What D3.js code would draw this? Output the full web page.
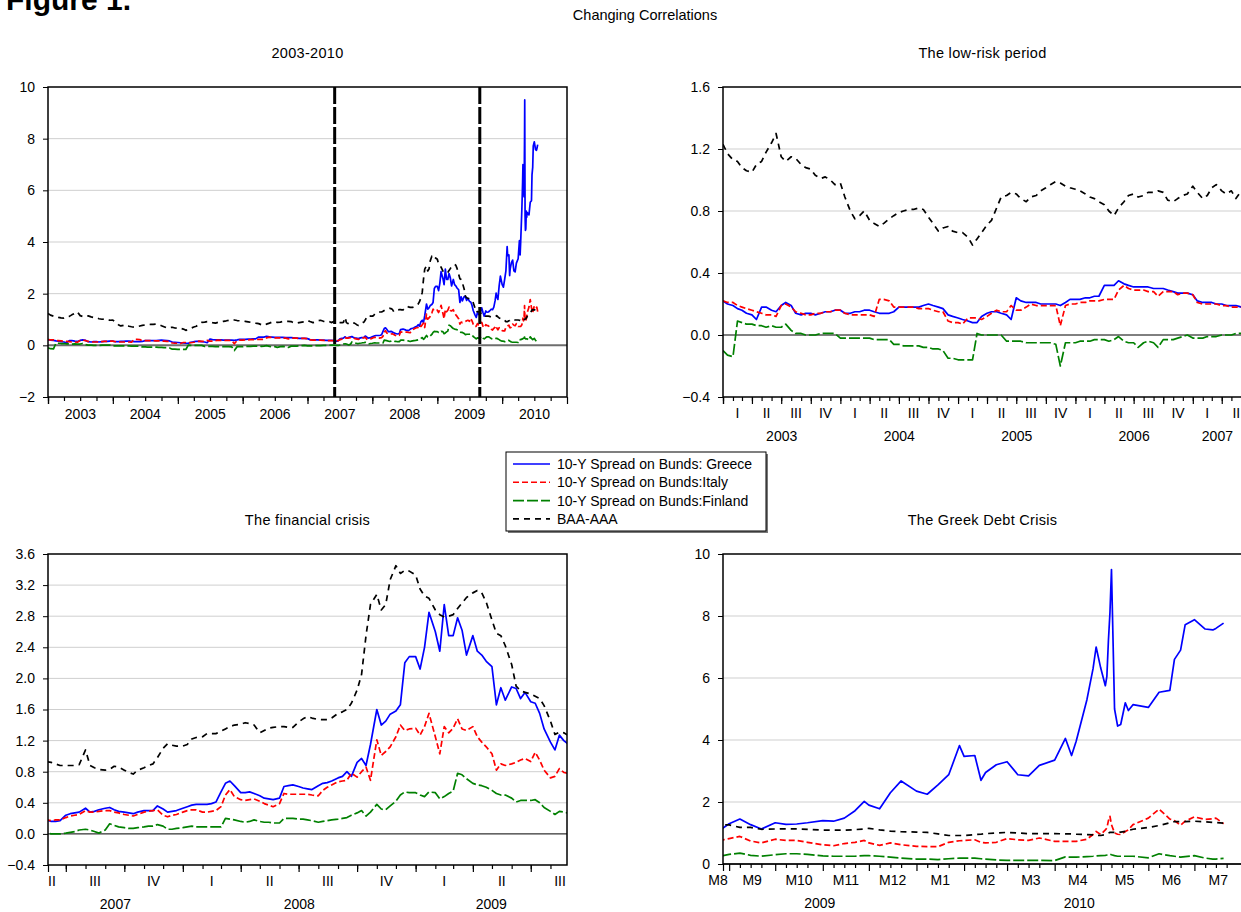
<!DOCTYPE html>
<html>
<head>
<meta charset="utf-8">
<script src="https://cdn.jsdelivr.net/npm/d3@7"></script>
<style>
  body { margin: 0; background: #fff; }
  text { font-family: "Liberation Sans", Arial, sans-serif; fill: #000; }
</style>
</head>
<body>
<svg id="chart" width="1241" height="912"></svg>
<script>
// ---- dates: semi-monthly for the calm years, weekly for the crisis, denser in 2010 ----
var datesLow = (
  "2003-01-01 2003-01-15 2003-02-01 2003-02-15 2003-03-01 2003-03-15 2003-04-01 2003-04-15 2003-05-01 2003-05-15 2003-06-01 2003-06-15 " +
  "2003-07-01 2003-07-15 2003-08-01 2003-08-15 2003-09-01 2003-09-15 2003-10-01 2003-10-15 2003-11-01 2003-11-15 2003-12-01 2003-12-15 " +
  "2004-01-01 2004-01-15 2004-02-01 2004-02-15 2004-03-01 2004-03-15 2004-04-01 2004-04-15 2004-05-01 2004-05-15 2004-06-01 2004-06-15 " +
  "2004-07-01 2004-07-15 2004-08-01 2004-08-15 2004-09-01 2004-09-15 2004-10-01 2004-10-15 2004-11-01 2004-11-15 2004-12-01 2004-12-15 " +
  "2005-01-01 2005-01-15 2005-02-01 2005-02-15 2005-03-01 2005-03-15 2005-04-01 2005-04-15 2005-05-01 2005-05-15 2005-06-01 2005-06-15 " +
  "2005-07-01 2005-07-15 2005-08-01 2005-08-15 2005-09-01 2005-09-15 2005-10-01 2005-10-15 2005-11-01 2005-11-15 2005-12-01 2005-12-15 " +
  "2006-01-01 2006-01-15 2006-02-01 2006-02-15 2006-03-01 2006-03-15 2006-04-01 2006-04-15 2006-05-01 2006-05-15 2006-06-01 2006-06-15 " +
  "2006-07-01 2006-07-15 2006-08-01 2006-08-15 2006-09-01 2006-09-15 2006-10-01 2006-10-15 2006-11-01 2006-11-15 2006-12-01 2006-12-15 " +
  "2007-01-01 2007-01-15 2007-02-01 2007-02-15 2007-03-01 2007-03-15 2007-04-01 2007-04-15 2007-05-01 2007-05-15 2007-06-01").split(" ");

var datesCrisis = (
  "2007-06-08 2007-06-15 2007-06-22 " +
  "2007-07-01 2007-07-08 2007-07-15 2007-07-22 2007-08-01 2007-08-08 2007-08-15 2007-08-22 2007-09-01 2007-09-08 2007-09-15 2007-09-22 " +
  "2007-10-01 2007-10-08 2007-10-15 2007-10-22 2007-11-01 2007-11-08 2007-11-15 2007-11-22 2007-12-01 2007-12-08 2007-12-15 2007-12-22 " +
  "2008-01-01 2008-01-08 2008-01-15 2008-01-22 2008-02-01 2008-02-08 2008-02-15 2008-02-22 2008-03-01 2008-03-08 2008-03-15 2008-03-22 " +
  "2008-04-01 2008-04-08 2008-04-15 2008-04-22 2008-05-01 2008-05-08 2008-05-15 2008-05-22 2008-06-01 2008-06-08 2008-06-15 2008-06-22 " +
  "2008-07-01 2008-07-08 2008-07-15 2008-07-22 2008-08-01 2008-08-08 2008-08-15 2008-08-22 2008-09-01 2008-09-08 2008-09-15 2008-09-22 " +
  "2008-10-01 2008-10-08 2008-10-15 2008-10-22 2008-11-01 2008-11-08 2008-11-15 2008-11-22 2008-12-01 2008-12-08 2008-12-15 2008-12-22 " +
  "2009-01-01 2009-01-08 2009-01-15 2009-01-22 2009-02-01 2009-02-08 2009-02-15 2009-02-22 2009-03-01 2009-03-08 2009-03-15 2009-03-22 " +
  "2009-04-01 2009-04-08 2009-04-15 2009-04-22 2009-05-01 2009-05-08 2009-05-15 2009-05-22 2009-06-01 2009-06-08 2009-06-15 2009-06-22 " +
  "2009-07-01 2009-07-08 2009-07-15 2009-07-22 2009-08-01 2009-08-08 2009-08-15 2009-08-22 2009-08-28").split(" ");

var datesGreek = (
  "2009-09-01 2009-09-08 2009-09-15 2009-09-22 2009-10-01 2009-10-08 2009-10-15 2009-10-22 " +
  "2009-11-01 2009-11-08 2009-11-15 2009-11-22 2009-11-28 2009-12-01 2009-12-08 2009-12-15 2009-12-22 " +
  "2010-01-01 2010-01-08 2010-01-15 2010-01-22 2010-01-29 2010-02-01 2010-02-08 2010-02-12 2010-02-15 2010-02-22 " +
  "2010-03-01 2010-03-08 2010-03-15 2010-03-22 2010-04-01 2010-04-08 2010-04-12 2010-04-15 2010-04-22 2010-04-26 2010-04-28 " +
  "2010-05-01 2010-05-04 2010-05-05 2010-05-06 2010-05-07 2010-05-08 2010-05-10 2010-05-12 2010-05-14 2010-05-17 2010-05-19 2010-05-22 " +
  "2010-06-01 2010-06-08 2010-06-15 2010-06-18 2010-06-22 2010-06-25 2010-07-01 2010-07-08 2010-07-13 2010-07-15 2010-07-20").split(" ");

var dates = datesLow.concat(datesCrisis, datesGreek);

// ---- 10-Y spread on Bunds: Greece ----
var greece = [
  // 2003-2007 (semi-monthly)
  0.22,0.20,0.19,0.17,0.16,0.14,0.13,0.10,0.18,0.18,0.16,0.15,0.19,0.21,0.19,0.14,0.13,0.14,0.14,0.13,0.14,0.15,0.15,0.16,
  0.16,0.14,0.14,0.15,0.15,0.16,0.16,0.15,0.14,0.14,0.14,0.15,0.18,0.18,0.18,0.18,0.18,0.19,0.20,0.19,0.18,0.17,0.13,0.12,
  0.11,0.10,0.09,0.08,0.08,0.12,0.14,0.15,0.15,0.14,0.13,0.10,0.24,0.22,0.21,0.21,0.21,0.20,0.20,0.20,0.20,0.19,0.21,0.23,
  0.23,0.23,0.24,0.24,0.25,0.25,0.32,0.32,0.32,0.35,0.33,0.32,0.31,0.31,0.31,0.31,0.30,0.30,0.30,0.29,0.28,0.27,0.27,0.27,
  0.26,0.22,0.21,0.21,0.21,0.20,0.20,0.19,0.19,0.19,0.18,
  // Jun 2007 - Aug 2009 (weekly)
  0.16,0.16,0.17,
  0.24,0.26,0.27,0.28, 0.33,0.28,0.29,0.31, 0.33,0.34,0.31,0.29, 0.28,0.27,0.26,0.28, 0.30,0.30,0.30,0.36, 0.32,0.28,0.29,0.30,
  0.33,0.35,0.37,0.38, 0.38,0.38,0.39,0.41, 0.54,0.65,0.68,0.62, 0.53,0.53,0.54,0.52, 0.49,0.46,0.45,0.44, 0.46,0.61,0.62,0.63,
  0.61,0.59,0.58,0.57, 0.62,0.65,0.66,0.68, 0.72,0.74,0.80,0.74, 0.92,0.97,0.88,1.15, 1.60,1.40,1.45,1.54, 1.58,1.66,2.20,2.28,
  2.28,2.12,2.40,2.85, 2.60,2.35,2.95,2.55, 2.55,2.78,2.62,2.30, 2.55,2.35,2.30,2.22, 2.15,1.66,1.88,1.72, 1.89,1.87,1.74,1.82,
  1.70,1.68,1.55,1.35, 1.18,1.08,1.27,1.20, 1.16,
  // Sep 2009 - Jul 2010
  1.30,1.45,1.27,1.13, 1.33,1.28,1.29,1.33, 1.40,1.38,1.48,1.72,2.02, 1.90,1.78,2.30,2.68,
  2.35,2.25,2.55,2.88,3.82, 3.47,3.50,2.70,2.95,3.20, 3.30,2.88,2.84,3.18, 3.35,4.05,3.50,3.96,5.30,6.30,7.00,
  6.32,5.75,6.05,7.20,8.10,9.50,5.00,4.45,4.50,5.20,4.95,5.14, 5.05,5.54,5.60,6.60,6.90,7.72, 7.88,7.58,7.55,7.60,7.77
];

// ---- 10-Y spread on Bunds: Italy ----
var italy = [
  0.22,0.21,0.21,0.19,0.18,0.17,0.16,0.15,0.14,0.13,0.13,0.12,0.19,0.20,0.18,0.15,0.14,0.13,0.13,0.14,0.14,0.15,0.15,0.16,
  0.16,0.14,0.13,0.13,0.13,0.13,0.13,0.12,0.23,0.23,0.22,0.18,0.18,0.18,0.18,0.18,0.17,0.17,0.17,0.16,0.15,0.15,0.09,0.08,
  0.08,0.07,0.11,0.11,0.11,0.10,0.12,0.14,0.16,0.15,0.15,0.19,0.16,0.16,0.18,0.20,0.19,0.19,0.19,0.19,0.19,0.06,0.19,0.20,
  0.20,0.21,0.21,0.22,0.22,0.22,0.23,0.23,0.23,0.29,0.32,0.30,0.29,0.29,0.29,0.28,0.28,0.25,0.28,0.28,0.28,0.26,0.27,0.27,
  0.26,0.21,0.20,0.20,0.20,0.20,0.19,0.19,0.18,0.18,0.18,
  0.17,0.18,0.18,
  0.21,0.23,0.24,0.25, 0.30,0.28,0.28,0.29, 0.30,0.30,0.28,0.27, 0.25,0.24,0.23,0.25, 0.28,0.29,0.30,0.31, 0.24,0.22,0.24,0.25,
  0.28,0.30,0.31,0.31, 0.28,0.28,0.29,0.30, 0.35,0.50,0.57,0.48, 0.44,0.43,0.44,0.45, 0.42,0.39,0.37,0.35, 0.39,0.52,0.51,0.51,
  0.51,0.51,0.51,0.50, 0.49,0.56,0.60,0.63, 0.67,0.68,0.69,0.78, 0.73,0.80,0.86,0.69, 1.21,1.01,1.06,1.12, 1.25,1.40,1.33,1.35,
  1.36,1.27,1.38,1.55, 1.25,1.03,1.38,1.30, 1.36,1.48,1.35,1.33, 1.38,1.25,1.18,1.12, 1.03,0.82,0.90,0.88, 0.90,0.92,0.95,0.97,
  0.93,1.05,0.95,0.82, 0.72,0.74,0.84,0.79, 0.78,
  0.82,0.89,0.74,0.68, 0.80,0.76,0.76,0.70, 0.62,0.59,0.66,0.70,0.76, 0.68,0.60,0.68,0.62,
  0.57,0.56,0.56,0.70,0.75, 0.76,0.78,0.70,0.68,0.70, 0.82,0.78,0.76,0.84, 0.73,0.73,0.73,0.73,0.80,0.95,1.05,
  0.95,1.10,1.16,1.40,1.54,1.27,1.00,0.96,0.95,1.05,1.10,1.27, 1.48,1.77,1.45,1.40,1.25,1.38, 1.52,1.44,1.46,1.48,1.30
];

// ---- 10-Y spread on Bunds: Finland ----
var finland = [
  -0.10,-0.13,-0.14,0.09,0.08,0.07,0.07,0.06,0.06,0.05,0.06,0.05,0.05,0.07,0.03,0.01,0.01,0.00,0.00,0.00,0.01,0.01,0.01,0.01,
  -0.02,-0.02,-0.02,-0.02,-0.02,-0.02,-0.02,-0.03,-0.03,-0.03,-0.03,-0.06,-0.06,-0.07,-0.07,-0.07,-0.07,-0.08,-0.08,-0.09,-0.09,-0.10,-0.15,-0.15,
  -0.16,-0.16,-0.16,-0.16,0.01,0.00,0.00,0.00,0.00,0.00,-0.04,-0.04,-0.04,-0.04,-0.05,-0.05,-0.05,-0.05,-0.05,-0.05,-0.06,-0.20,-0.05,-0.05,
  -0.05,-0.04,-0.04,-0.04,-0.03,-0.03,-0.03,-0.04,-0.03,-0.01,-0.04,-0.05,-0.05,-0.08,-0.05,-0.04,-0.05,-0.08,-0.03,-0.03,-0.03,-0.02,-0.01,0.00,
  -0.02,-0.02,-0.02,-0.01,-0.01,-0.01,0.00,0.00,0.00,0.01,0.01,
  0.00,0.00,0.00,
  0.01,0.02,0.03,0.05, 0.06,0.05,0.03,0.01, 0.05,0.13,0.11,0.09, 0.08,0.07,0.07,0.08, 0.09,0.10,0.10,0.12, 0.10,0.06,0.06,0.07,
  0.08,0.09,0.10,0.09, 0.09,0.09,0.09,0.09, 0.09,0.20,0.19,0.18, 0.16,0.15,0.16,0.18, 0.16,0.15,0.15,0.14, 0.14,0.20,0.20,0.20,
  0.19,0.19,0.18,0.17, 0.15,0.16,0.17,0.18, 0.19,0.20,0.21,0.24, 0.27,0.30,0.23,0.28, 0.38,0.32,0.31,0.36, 0.42,0.50,0.54,0.53,
  0.53,0.50,0.48,0.54, 0.53,0.45,0.48,0.52, 0.55,0.78,0.76,0.71, 0.65,0.63,0.62,0.60, 0.56,0.52,0.50,0.50, 0.46,0.41,0.43,0.43,
  0.43,0.44,0.40,0.34, 0.29,0.25,0.29,0.28, 0.27,
  0.31,0.35,0.28,0.25, 0.30,0.33,0.33,0.31, 0.26,0.25,0.25,0.25,0.27, 0.27,0.25,0.22,0.19,
  0.16,0.16,0.14,0.17,0.19, 0.19,0.19,0.17,0.16,0.13, 0.12,0.12,0.12,0.12, 0.11,0.23,0.22,0.22,0.24,0.25,0.26,
  0.27,0.28,0.29,0.31,0.32,0.30,0.27,0.25,0.25,0.25,0.25,0.25, 0.20,0.33,0.27,0.25,0.22,0.24, 0.27,0.19,0.16,0.16,0.18
];

// ---- BAA-AAA corporate spread ----
var baaAaa = [
  1.23,1.17,1.13,1.12,1.08,1.06,1.05,1.10,1.12,1.18,1.24,1.30,1.15,1.12,1.15,1.14,1.10,1.08,1.07,1.03,1.01,1.02,1.00,0.97,
  0.98,0.89,0.80,0.75,0.77,0.80,0.74,0.72,0.70,0.72,0.75,0.77,0.79,0.80,0.81,0.81,0.82,0.81,0.76,0.72,0.67,0.69,0.70,0.67,
  0.66,0.66,0.63,0.58,0.62,0.66,0.71,0.74,0.82,0.89,0.90,0.92,0.91,0.88,0.86,0.89,0.90,0.93,0.95,0.97,0.99,0.98,0.96,0.95,
  0.94,0.93,0.91,0.89,0.88,0.86,0.84,0.80,0.77,0.82,0.86,0.90,0.91,0.89,0.90,0.92,0.92,0.93,0.92,0.87,0.86,0.88,0.90,0.91,
  0.96,0.92,0.88,0.90,0.95,0.97,0.93,0.91,0.93,0.88,0.93,
  0.92,0.90,0.88,
  0.88,0.88,0.88,0.89, 1.08,0.88,0.85,0.83, 0.82,0.83,0.87,0.86, 0.82,0.79,0.77,0.82, 0.85,0.88,0.90,0.98, 1.10,1.16,1.14,1.13,
  1.13,1.15,1.22,1.24, 1.25,1.29,1.29,1.29, 1.32,1.35,1.38,1.40, 1.41,1.43,1.42,1.40, 1.30,1.33,1.36,1.37, 1.38,1.38,1.37,1.37,
  1.44,1.48,1.51,1.49, 1.47,1.47,1.47,1.49, 1.55,1.57,1.60,1.68, 1.85,2.05,2.55,2.95, 3.08,2.88,2.95,3.27, 3.45,3.35,3.39,3.38,
  3.33,3.15,3.06,3.03, 2.88,2.82,2.79,2.80, 2.82,2.90,2.97,3.04, 3.10,3.13,3.10,2.98, 2.75,2.58,2.55,2.42, 2.18,1.90,1.84,1.82,
  1.80,1.77,1.74,1.65, 1.45,1.28,1.31,1.30, 1.27,
  1.26,1.18,1.18,1.12, 1.13,1.13,1.13,1.12, 1.09,1.09,1.09,1.11,1.13, 1.15,1.10,1.06,1.04,
  1.03,1.02,0.97,0.92,0.92, 0.92,0.95,0.96,0.98,1.00, 1.02,1.00,0.98,0.98, 0.98,0.97,0.97,0.96,0.95,0.94,0.93,
  0.92,0.95,0.97,1.00,1.02,1.02,1.02,1.02,1.03,1.05,1.08,1.12, 1.18,1.24,1.33,1.37,1.37,1.37, 1.38,1.36,1.34,1.34,1.32
];

var seriesNames = ["10-Y Spread on Bunds: Greece", "10-Y Spread on Bunds:Italy", "10-Y Spread on Bunds:Finland", "BAA-AAA"];
var panelTitles = ["2003-2010", "The low-risk period", "The financial crisis", "The Greek Debt Crisis"];
var breakDates = ["2007-06-03", "2009-08-28"];   // dashed markers on the full-sample panel

var yTicksAll = [-2, 0, 2, 4, 6, 8, 10];
var yTicksLow = [-0.4, 0.0, 0.4, 0.8, 1.2, 1.6];
var yTicksCrisis = [-0.4, 0.0, 0.4, 0.8, 1.2, 1.6, 2.0, 2.4, 2.8, 3.2, 3.6];
var yTicksGreek = [0, 2, 4, 6, 8, 10];
var quarterNames = ["I", "II", "III", "IV"];

var parse = d3.timeParse("%Y-%m-%d");

var rows = dates.map(function(d, i) {
  return { date: parse(d), v: [greece[i], italy[i], finland[i], baaAaa[i]] };
});

var lineStyles = [
  { color: "#0000ff", dash: null },
  { color: "#ff0000", dash: "6,3" },
  { color: "#008000", dash: "11,3" },
  { color: "#000000", dash: "6,5" }
];

var svg = d3.select("#chart");

svg.append("text")
  .attr("x", 6).attr("y", 10)
  .style("font-size", "30px").style("font-weight", "bold")
  .text("Figure 1.");

svg.append("text")
  .attr("x", 645).attr("y", 20)
  .attr("text-anchor", "middle")
  .style("font-size", "14.5px")
  .text("Changing Correlations");

var panels = [
  { id: 0, left: 48, top: 87, width: 519, height: 310, start: "2003-01-01", end: "2011-01-01",
    yTicks: yTicksAll, fmt: d3.format("d"), kind: "year", zeroColor: "#6e6e6e", zeroWidth: 2 },
  { id: 1, left: 723, top: 87, width: 519, height: 310, start: "2003-01-01", end: "2007-06-03",
    yTicks: yTicksLow, fmt: d3.format(".1f"), kind: "quarter", labelMin: 0 },
  { id: 2, left: 48, top: 554, width: 519, height: 311, start: "2007-06-03", end: "2009-08-27",
    yTicks: yTicksCrisis, fmt: d3.format(".1f"), kind: "quarter", labelMin: 52 },
  { id: 3, left: 723, top: 554, width: 519, height: 310, start: "2009-08-28", end: "2010-08-01",
    yTicks: yTicksGreek, fmt: d3.format("d"), kind: "month", labelMin: 718 }
];

panels.forEach(drawPanel);
drawLegend();

function drawPanel(p) {
  var t0 = parse(p.start), t1 = parse(p.end);
  var x = d3.scaleTime().domain([t0, t1]).range([p.left, p.left + p.width]);
  var y = d3.scaleLinear()
    .domain([p.yTicks[0], p.yTicks[p.yTicks.length - 1]])
    .range([p.top + p.height, p.top]);
  var bottom = p.top + p.height;
  var g = svg.append("g");

  g.append("text")
    .attr("x", p.left + p.width / 2).attr("y", p.top - 29)
    .attr("text-anchor", "middle")
    .style("font-size", "14.5px")
    .style("letter-spacing", "0.3px")
    .text(panelTitles[p.id]);

  // light grid
  g.selectAll(".grid")
    .data(p.yTicks.slice(1, -1).filter(function(v) { return Math.abs(v) > 1e-9; }))
    .enter().append("line")
    .attr("x1", p.left).attr("x2", p.left + p.width)
    .attr("y1", function(v) { return y(v); }).attr("y2", function(v) { return y(v); })
    .attr("stroke", "#cfcfcf").attr("stroke-width", 1);

  g.append("line")
    .attr("x1", p.left).attr("x2", p.left + p.width)
    .attr("y1", y(0)).attr("y2", y(0))
    .attr("stroke", p.zeroColor || "#000").attr("stroke-width", p.zeroWidth || 1);

  svg.append("clipPath").attr("id", "clip" + p.id)
    .append("rect")
    .attr("x", p.left).attr("y", p.top)
    .attr("width", p.width).attr("height", p.height);

  var plot = g.append("g").attr("clip-path", "url(#clip" + p.id + ")");
  var visible = rows.filter(function(r) {
    return r.date >= d3.timeDay.offset(t0, -20) && r.date <= d3.timeDay.offset(t1, 20);
  });

  lineStyles.forEach(function(s, k) {
    var line = d3.line()
      .x(function(r) { return x(r.date); })
      .y(function(r) { return y(r.v[k]); });
    plot.append("path")
      .datum(visible)
      .attr("d", line)
      .attr("fill", "none")
      .attr("stroke", s.color)
      .attr("stroke-width", 1.7)
      .attr("stroke-linejoin", "round")
      .attr("stroke-dasharray", s.dash);
  });

  if (p.id === 0) {
    plot.selectAll(".break")
      .data(breakDates)
      .enter().append("line")
      .attr("x1", function(d) { return x(parse(d)); })
      .attr("x2", function(d) { return x(parse(d)); })
      .attr("y1", p.top).attr("y2", bottom)
      .attr("stroke", "#000").attr("stroke-width", 3)
      .attr("stroke-dasharray", "17,3");
  }

  g.append("rect")
    .attr("x", p.left).attr("y", p.top)
    .attr("width", p.width).attr("height", p.height)
    .attr("fill", "none").attr("stroke", "#000").attr("stroke-width", 1.5);

  // y axis
  var ya = g.append("g")
    .attr("transform", "translate(" + p.left + ",0)")
    .call(d3.axisLeft(y).tickValues(p.yTicks).tickSize(5).tickPadding(8).tickFormat(p.fmt));
  ya.select(".domain").remove();
  ya.selectAll("text").style("font-size", "14px").attr("font-family", null);

  // x axis ticks
  var minor, major;
  if (p.kind === "year") {
    minor = d3.timeMonth.every(3).range(t0, t1);
    major = d3.timeYear.range(t0, d3.timeDay.offset(t1, 1));
  } else if (p.kind === "quarter") {
    minor = d3.timeMonth.range(t0, t1);
    major = d3.timeMonth.every(3).range(t0, t1);
  } else {
    minor = [];
    d3.timeMonth.range(d3.timeMonth.floor(t0), t1).forEach(function(m) {
      [7, 14, 21].forEach(function(k) { minor.push(d3.timeDay.offset(m, k)); });
    });
    minor = minor.filter(function(d) { return d >= t0 && d <= t1; });
    major = d3.timeMonth.range(t0, t1);
  }
  major = [t0].concat(major);

  [[minor, 4], [major, 7]].forEach(function(set) {
    var a = g.append("g")
      .attr("transform", "translate(0," + bottom + ")")
      .call(d3.axisBottom(x).tickValues(set[0]).tickSize(set[1]).tickFormat(""));
    a.select(".domain").remove();
    a.selectAll("line").attr("stroke-width", 1.2);
  });

  function visCenter(a, b) {
    var s = a < t0 ? t0 : a, e = b > t1 ? t1 : b;
    return (x(s) + x(e)) / 2;
  }

  var years = d3.timeYear.range(d3.timeYear.floor(t0), t1);
  if (p.kind === "year") {
    g.selectAll(".ylab").data(years).enter().append("text")
      .attr("x", function(d) { return visCenter(d, d3.timeYear.offset(d, 1)); })
      .attr("y", bottom + 22)
      .attr("text-anchor", "middle").style("font-size", "14px")
      .text(function(d) { return d.getFullYear(); });
    return;
  }

  var periods;
  if (p.kind === "quarter") {
    periods = d3.timeMonth.every(3).range(d3.timeMonth.every(3).floor(t0), t1).map(function(d) {
      return { s: d, e: d3.timeMonth.offset(d, 3), label: quarterNames[Math.floor(d.getMonth() / 3)] };
    });
  } else {
    periods = d3.timeMonth.range(d3.timeMonth.floor(t0), t1).map(function(d) {
      return { s: d, e: d3.timeMonth.offset(d, 1), label: "M" + (d.getMonth() + 1) };
    });
  }

  g.selectAll(".plab").data(periods).enter().append("text")
    .attr("x", function(d) {
      var c = x(new Date((d.s.getTime() + d.e.getTime()) / 2));
      return Math.max(c, p.labelMin || 0);
    })
    .attr("y", bottom + 21)
    .attr("text-anchor", "middle").style("font-size", "14px")
    .text(function(d) { return d.label; });

  g.selectAll(".ylab").data(years).enter().append("text")
    .attr("x", function(d) { return visCenter(d, d3.timeYear.offset(d, 1)); })
    .attr("y", bottom + 44)
    .attr("text-anchor", "middle").style("font-size", "14px")
    .text(function(d) { return d.getFullYear(); });
}

function drawLegend() {
  var lx = 506, ly = 452, lw = 260, lh = 79;
  var g = svg.append("g");
  g.append("rect")
    .attr("x", lx + 2).attr("y", ly + 2).attr("width", lw).attr("height", lh)
    .attr("fill", "#777");
  g.append("rect")
    .attr("x", lx).attr("y", ly).attr("width", lw).attr("height", lh)
    .attr("fill", "#fff").attr("stroke", "#000").attr("stroke-width", 1);

  var item = g.selectAll(".item").data(seriesNames).enter().append("g")
    .attr("transform", function(d, i) { return "translate(" + lx + "," + (ly + 12 + i * 18.3) + ")"; });
  item.append("line")
    .attr("x1", 7).attr("x2", 44).attr("y1", 0).attr("y2", 0)
    .attr("stroke", function(d, i) { return lineStyles[i].color; })
    .attr("stroke-width", 1.6)
    .attr("stroke-dasharray", function(d, i) { return lineStyles[i].dash; });
  item.append("text")
    .attr("x", 51).attr("y", 5)
    .style("font-size", "14px")
    .text(function(d) { return d; });
}
</script>
</body>
</html>
